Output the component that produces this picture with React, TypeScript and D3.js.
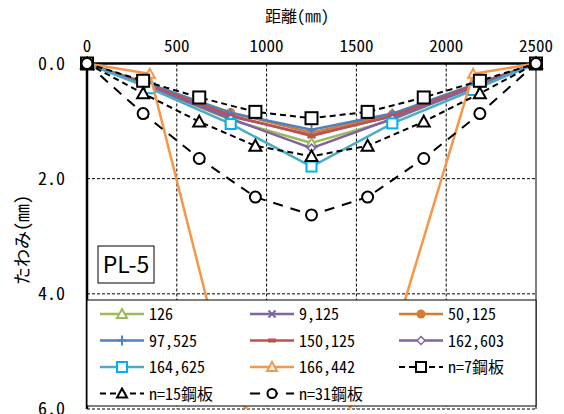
import React from "react";
import { scaleLinear, line } from "d3";

// distances (mm)
const measX = [0, 350, 800, 1250, 1700, 2150, 2500];
const theoX = [0, 312.5, 625, 937.5, 1250, 1562.5, 1875, 2187.5, 2500];

const xTicks = [0, 500, 1000, 1500, 2000, 2500];
const yTicks = [0, 2, 4, 6];

// deflection (mm)
const s126 = [0, 0.4, 0.98, 1.38, 0.98, 0.4, 0];
const s9125 = [0, 0.39, 0.92, 1.24, 0.92, 0.39, 0];
const s50125 = [0, 0.37, 0.85, 1.2, 0.88, 0.38, 0];
const s97525 = [0, 0.36, 0.86, 1.15, 0.87, 0.37, 0];
const s150125 = [0, 0.38, 0.9, 1.26, 0.91, 0.39, 0];
const s162603 = [0, 0.41, 0.96, 1.47, 0.96, 0.42, 0];
const s164625 = [0, 0.43, 1.05, 1.79, 1.04, 0.46, 0];
const s166442 = [0, 0.18, 5.74, 7.0, 4.84, 0.18, 0];
const n7 = [0, 0.3, 0.59, 0.84, 0.95, 0.84, 0.59, 0.3, 0];
const n15 = [0, 0.52, 1.01, 1.43, 1.61, 1.43, 1.01, 0.52, 0];
const n31 = [0, 0.87, 1.65, 2.32, 2.63, 2.32, 1.65, 0.87, 0];

const series = [
  { name: "126", xs: measX, ys: s126, color: "#9BBB59", mk: "tri", mc: "#9BBB59", dash: null },
  { name: "9,125", xs: measX, ys: s9125, color: "#8064A2", mk: "x", mc: "#8064A2", dash: null },
  { name: "50,125", xs: measX, ys: s50125, color: "#D67B33", mk: "dot", mc: "#D67B33", dash: null },
  { name: "97,525", xs: measX, ys: s97525, color: "#4F81BD", mk: "plus", mc: "#4F81BD", dash: null },
  { name: "150,125", xs: measX, ys: s150125, color: "#C0504D", mk: "bar", mc: "#C0504D", dash: null },
  { name: "162,603", xs: measX, ys: s162603, color: "#8064A2", mk: "dia", mc: "#8064A2", dash: null },
  { name: "164,625", xs: measX, ys: s164625, color: "#4BACC6", mk: "sq", mc: "#00B0F0", dash: null },
  { name: "166,442", xs: measX, ys: s166442, color: "#F79646", mk: "tri", mc: "#F79646", dash: null },
  { name: "n=7鋼板", xs: theoX, ys: n7, color: "#000", mk: "sq", mc: "#000", dash: "6,4" },
  { name: "n=15鋼板", xs: theoX, ys: n15, color: "#000", mk: "tri", mc: "#000", dash: "6,4" },
  { name: "n=31鋼板", xs: theoX, ys: n31, color: "#000", mk: "circ", mc: "#000", dash: "10,8" },
];

const font = '"Noto Sans Mono CJK JP", "Noto Sans CJK JP", sans-serif';

const Marker = ({ kind, x, y, c, big }) => {
  const r = big ? 6 : 5;
  switch (kind) {
    case "tri":
      return <path d={`M${x},${y - r}L${x + r},${y + r * 0.8}L${x - r},${y + r * 0.8}Z`} fill="#fff" stroke={c} strokeWidth={2} />;
    case "sq":
      return <rect x={x - r} y={y - r} width={2 * r} height={2 * r} fill="#fff" stroke={c} strokeWidth={2} />;
    case "circ":
      return <circle cx={x} cy={y} r={r - 0.5} fill="#fff" stroke={c} strokeWidth={2} />;
    case "dot":
      return <circle cx={x} cy={y} r={4.5} fill={c} />;
    case "x":
      return <path d={`M${x - 3.5},${y - 3.5}L${x + 3.5},${y + 3.5}M${x - 3.5},${y + 3.5}L${x + 3.5},${y - 3.5}`} stroke={c} strokeWidth={2} />;
    case "plus":
      return <path d={`M${x - 4},${y}L${x + 4},${y}M${x},${y - 5}L${x},${y + 5}`} stroke={c} strokeWidth={2} />;
    case "bar":
      return <rect x={x - 4} y={y - 2} width={8} height={4} fill={c} />;
    case "dia":
      return <path d={`M${x},${y - 4}L${x + 4},${y}L${x},${y + 4}L${x - 4},${y}Z`} fill="#fff" stroke={c} strokeWidth={1.5} />;
    default:
      return null;
  }
};

export default function App() {
  const left = 87, right = 536, top = 63.5, bottom = 409;
  const x = scaleLinear().domain([0, 2500]).range([left, right]);
  const y = scaleLinear().domain([0, 6]).range([top, bottom]);

  const legX = [100, 250, 399];
  const legY = [314, 340.5, 367, 393.5];

  return (
    <svg width={564} height={414} style={{ position: "absolute", left: 0, top: 0, background: "#fff" }}>
      <defs>
        <clipPath id="plot">
          <rect x={left - 15} y={top - 15} width={right - left + 30} height={bottom - top + 15} />
        </clipPath>
      </defs>

      {/* grid */}
      {xTicks.slice(1, -1).map((t) => (
        <line key={t} x1={x(t)} x2={x(t)} y1={top} y2={bottom} stroke="#000" strokeWidth={1} strokeDasharray="3,2" />
      ))}
      {yTicks.slice(1).map((t) => (
        <line key={t} x1={left} x2={right} y1={y(t)} y2={y(t)} stroke="#000" strokeWidth={1} strokeDasharray="3,2" />
      ))}
      <line x1={right} x2={right} y1={top} y2={bottom} stroke="#000" strokeWidth={1} />

      {/* axes */}
      <line x1={left} x2={right} y1={top} y2={top} stroke="#000" strokeWidth={2.5} />
      <line x1={left} x2={left} y1={top} y2={bottom} stroke="#000" strokeWidth={2.5} />

      {xTicks.map((t) => (
        <text key={t} x={x(t)} y={52} textAnchor="middle" fontFamily={font} fontSize={17}>{t}</text>
      ))}
      {yTicks.map((t) => (
        <text key={t} x={65} y={y(t) + 6} textAnchor="end" fontFamily={font} fontSize={18}>{t.toFixed(1)}</text>
      ))}
      <text x={297} y={22} textAnchor="middle" fontFamily={font} fontSize={16}>距離(㎜)</text>
      <text transform="translate(29,240) rotate(-90)" textAnchor="middle" fontFamily={font} fontSize={18}>たわみ(㎜)</text>

      {/* series */}
      <g clipPath="url(#plot)">
        {series.map((s) => {
          const pts = s.xs.map((d, i) => [x(d), y(s.ys[i])]);
          return (
            <g key={s.name}>
              <path d={line()(pts)} fill="none" stroke={s.color} strokeWidth={s.dash ? 2 : 2.5} strokeDasharray={s.dash || undefined} />
              {pts.map((p, i) => (
                <Marker key={i} kind={s.mk} x={p[0]} y={p[1]} c={s.mc} big={!!s.dash} />
              ))}
            </g>
          );
        })}
      </g>

      {/* PL-5 label */}
      <rect x={98} y={246} width={56} height={37} fill="#fff" stroke="#000" strokeWidth={1} />
      <text x={126} y={273} textAnchor="middle" fontFamily='"Noto Sans CJK JP", sans-serif' fontSize={23}>PL-5</text>

      {/* legend */}
      <rect x={87} y={300} width={449} height={106} fill="#fff" stroke="#000" strokeWidth={1} />
      {series.map((s, i) => {
        const lx = legX[i % 3];
        const ly = legY[Math.floor(i / 3)];
        return (
          <g key={s.name}>
            <line x1={lx} x2={lx + 44} y1={ly} y2={ly} stroke={s.color} strokeWidth={s.dash ? 2 : 2.5} strokeDasharray={s.dash || undefined} />
            <Marker kind={s.mk} x={lx + 22} y={ly} c={s.mc} big={false} />
            <text x={lx + 49} y={ly + 6} fontFamily={font} fontSize={16}>{s.name}</text>
          </g>
        );
      })}
    </svg>
  );
}
